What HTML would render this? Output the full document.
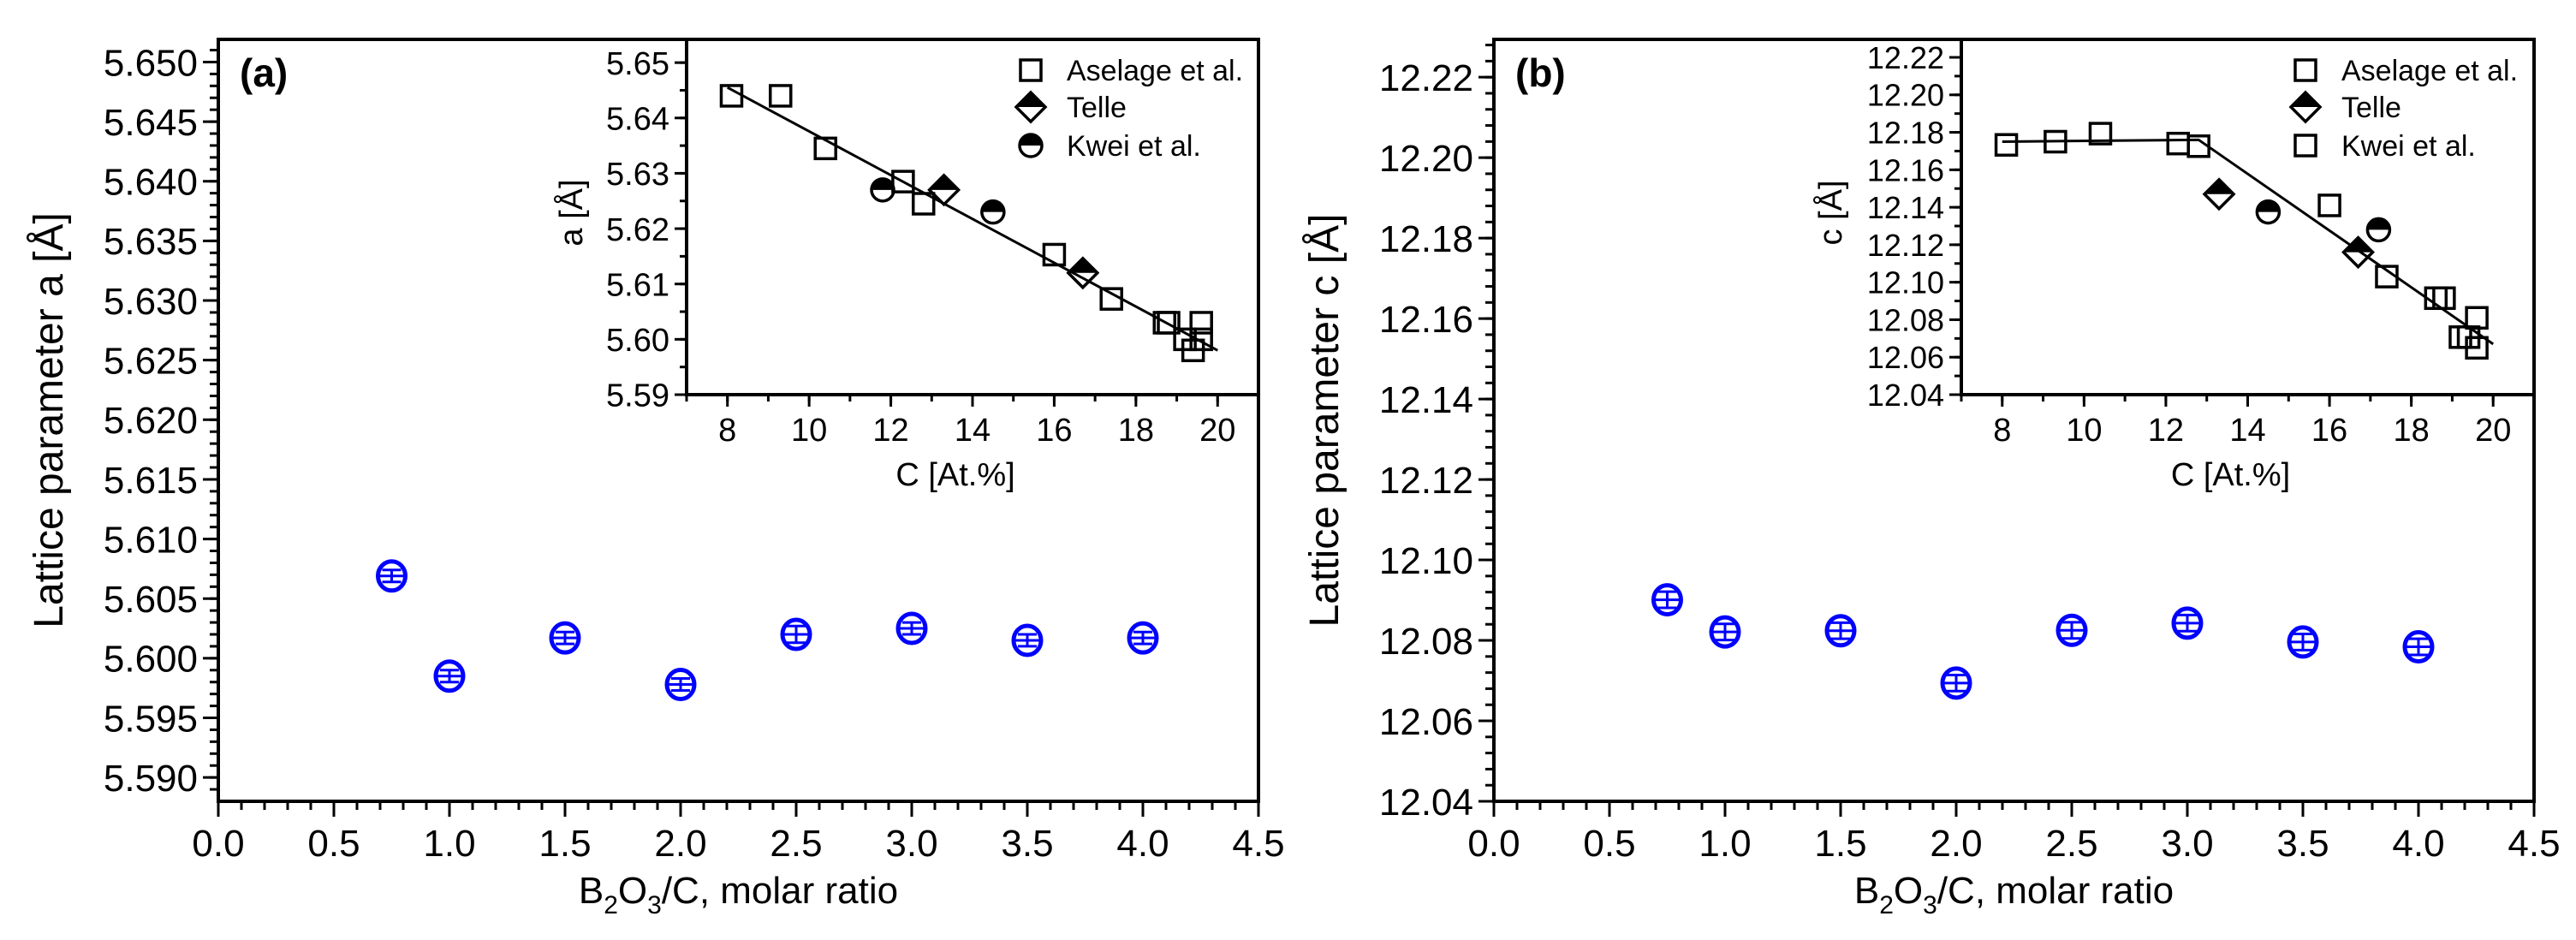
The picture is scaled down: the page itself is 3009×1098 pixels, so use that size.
<!DOCTYPE html>
<html><head><meta charset="utf-8"><style>
html,body{margin:0;padding:0;background:#fff;}
svg{display:block;font-family:"Liberation Sans",Arial,sans-serif;}
</style></head><body>
<svg id="fig" width="3009" height="1098" viewBox="0 0 3009 1098" xmlns="http://www.w3.org/2000/svg"></svg>
<script>
// ---- main data ----
const ratioX = [0.75, 1.0, 1.5, 2.0, 2.5, 3.0, 3.5, 4.0];
const latticeA = [5.6069, 5.5985, 5.6017, 5.5978, 5.6020, 5.6025, 5.6015, 5.6017];
const latticeAErr = [0.0005, 0.0005, 0.0005, 0.0005, 0.0007, 0.0005, 0.0005, 0.0005];
const latticeC = [12.0901, 12.0821, 12.0824, 12.0694, 12.0825, 12.0843, 12.0796, 12.0784];
const latticeCErr = [0.002, 0.002, 0.002, 0.002, 0.002, 0.002, 0.002, 0.002];
const mainXTicks = [0.0, 0.5, 1.0, 1.5, 2.0, 2.5, 3.0, 3.5, 4.0, 4.5];
const mainATicks = [5.590, 5.595, 5.600, 5.605, 5.610, 5.615, 5.620, 5.625, 5.630, 5.635, 5.640, 5.645, 5.650];
const mainCTicks = [12.04, 12.06, 12.08, 12.10, 12.12, 12.14, 12.16, 12.18, 12.20, 12.22];
// ---- inset a data ----
const insAAselageC = [8.1, 9.3, 10.4, 12.3, 12.8, 16.0, 17.4, 18.7, 18.8, 19.2, 19.4, 19.6, 19.6];
const insAAselageV = [5.644, 5.644, 5.6345, 5.6285, 5.6245, 5.6153, 5.6073, 5.603, 5.603, 5.600, 5.598, 5.603, 5.600];
const insATelleC = [13.3, 16.7];
const insATelleV = [5.627, 5.612];
const insAKweiC = [11.8, 14.5];
const insAKweiV = [5.627, 5.623];
const insAFitC = [8.0, 20.0];
const insAFitV = [5.6455, 5.598];
const insATicks = [5.59, 5.60, 5.61, 5.62, 5.63, 5.64, 5.65];
// ---- inset b data ----
const insBAselageC = [8.1, 9.3, 10.4, 12.3, 12.8, 16.0, 17.4, 18.6, 18.8, 19.2, 19.4, 19.6, 19.6];
const insBAselageV = [12.1733, 12.175, 12.1793, 12.174, 12.1726, 12.141, 12.103, 12.0915, 12.0915, 12.0707, 12.0707, 12.081, 12.065];
const insBTelleC = [13.3, 16.7];
const insBTelleV = [12.147, 12.116];
const insBKweiC = [14.5, 17.2];
const insBKweiV = [12.1375, 12.128];
const insBFitC = [8.0, 12.8, 20.0];
const insBFitV = [12.175, 12.176, 12.067];
const insBTicks = [12.04, 12.06, 12.08, 12.10, 12.12, 12.14, 12.16, 12.18, 12.20, 12.22];
const insXTicks = [8, 10, 12, 14, 16, 18, 20];

const NS = "http://www.w3.org/2000/svg";
const svg = document.getElementById('fig');
function mk(tag, attrs, parent, txt) {
  const e = document.createElementNS(NS, tag);
  for (const k in attrs) e.setAttribute(k, attrs[k]);
  if (txt !== undefined) e.textContent = txt;
  (parent || svg).appendChild(e);
  return e;
}
function scale(d0, d1, r0, r1) { return v => r0 + (v - d0) / (d1 - d0) * (r1 - r0); }

function axes(g, L, R, T, B, xs, ys, xTicks, xMinor, yTicks, yMinor, xFmt, yFmt, fs, maj, mn, box, yfs) {
  yfs = yfs || fs;
  if (box) { const r = mk('rect', {x: L, y: T, width: R - L, height: B - T, fill: '#fff', stroke: '#000', 'stroke-width': 4}, g);   }
  xMinor.forEach(v => mk('line', {x1: xs(v), x2: xs(v), y1: B, y2: B + mn, stroke: '#000', 'stroke-width': 3}, g));
  yMinor.forEach(v => mk('line', {x1: L, x2: L - mn, y1: ys(v), y2: ys(v), stroke: '#000', 'stroke-width': 3}, g));
  xTicks.forEach(v => {
    mk('line', {x1: xs(v), x2: xs(v), y1: B, y2: B + maj, stroke: '#000', 'stroke-width': 3}, g);
    const t = mk('text', {x: xs(v), y: B + maj + fs * 1.05, 'font-size': fs, 'text-anchor': 'middle'}, g, xFmt(v));
    
    
  });
  yTicks.forEach(v => {
    mk('line', {x1: L, x2: L - maj, y1: ys(v), y2: ys(v), stroke: '#000', 'stroke-width': 3}, g);
    const t = mk('text', {x: L - maj - 6, y: ys(v) + yfs * 0.36, 'font-size': yfs, 'text-anchor': 'end'}, g, yFmt(v));
    
    
  });
}
function range(a, b, s) { const o = []; for (let v = a; v <= b + 1e-9; v += s) o.push(+v.toFixed(6)); return o; }

function square(g, x, y) { const e = mk('rect', {x: x - 12, y: y - 12, width: 24, height: 24, fill: 'none', stroke: '#000', 'stroke-width': 3.5}, g); return e; }
function diamond(g, x, y) {
  const s = 17;
  mk('path', {d: `M${x - s},${y} L${x},${y - s} L${x + s},${y} Z`, fill: '#000'}, g);
  return mk('path', {d: `M${x},${y - s} L${x + s},${y} L${x},${y + s} L${x - s},${y} Z`, fill: 'none', stroke: '#000', 'stroke-width': 3.5}, g);
}
function halfCircle(g, x, y) {
  const r = 13;
  mk('path', {d: `M${x - r},${y} A${r},${r} 0 0 1 ${x + r},${y} Z`, fill: '#000'}, g);
  return mk('circle', {cx: x, cy: y, r: r, fill: 'none', stroke: '#000', 'stroke-width': 3.5}, g);
}

function mainPanel(id, L, R, T, B, ymin, ymax, vals, errs, yTicks, yMinorStep, yFmt, ytitle, letter) {
  const g = mk('g', {});
  
  
  const xs = scale(0, 4.5, L, R), ys = scale(ymin, ymax, B, T);
  mk('rect', {x: L, y: T, width: R - L, height: B - T, fill: 'none', stroke: '#000', 'stroke-width': 4}, g);
  axes(g, L, R, T, B, xs, ys, mainXTicks, range(0, 4.5, 0.1), yTicks, range(yTicks[0] - yMinorStep, ymax, yMinorStep).filter(v => v >= ymin && v <= ymax), v => v.toFixed(1), yFmt, 44, 18, 10, false);
  const lt = mk('text', {x: L + 25, y: T + 55, 'font-size': 46, 'font-weight': 'bold'}, g, letter);
  
  
  const yt = mk('text', {x: 0, y: 0, 'font-size': 48, 'text-anchor': 'middle', transform: `translate(${L - 182},${(T + B) / 2}) rotate(-90)`}, g, ytitle);
  
  
  const xt = mk('text', {x: (L + R) / 2, y: 1055, 'font-size': 44, 'text-anchor': 'middle'}, g);
  
  
  mk('tspan', {}, xt, 'B');
  mk('tspan', {dy: 12, 'font-size': 30}, xt, '2');
  mk('tspan', {dy: -12}, xt, 'O');
  mk('tspan', {dy: 12, 'font-size': 30}, xt, '3');
  mk('tspan', {dy: -12}, xt, '/C, molar ratio');
  ratioX.forEach((xv, i) => {
    const cx = xs(xv), cy = ys(vals[i]);
    const pg = mk('g', {}, g);
    
    
    const e1 = ys(vals[i] + errs[i]), e0 = ys(vals[i] - errs[i]);
    mk('line', {x1: cx, x2: cx, y1: e1, y2: e0, stroke: '#00f', 'stroke-width': 3}, pg);
    mk('line', {x1: cx - 11, x2: cx + 11, y1: e1, y2: e1, stroke: '#00f', 'stroke-width': 3}, pg);
    mk('line', {x1: cx - 11, x2: cx + 11, y1: e0, y2: e0, stroke: '#00f', 'stroke-width': 3}, pg);
    mk('line', {x1: cx - 15, x2: cx + 15, y1: cy, y2: cy, stroke: '#00f', 'stroke-width': 3}, pg);
    mk('ellipse', {cx: cx, cy: cy, rx: 16, ry: 17, fill: 'none', stroke: '#00f', 'stroke-width': 5}, pg);
  });
}

function insetPanel(id, L, R, T, B, ymin, ymax, yTicks, yMinor, yFmt, ytitle, asC, asV, teC, teV, kwC, kwV, fitC, fitV, kweiSquare, legX, titleOff, yfs) {
  const g = mk('g', {});
  
  
  const xs = scale(7, 21, L, R), ys = scale(ymin, ymax, B, T);
  axes(g, L, R, T, B, xs, ys, insXTicks, range(7, 21, 1), yTicks, yMinor, v => String(v), yFmt, 38, 14, 8, true, yfs);
  const xt = mk('text', {x: (L + R) / 2 - 20, y: 567, 'font-size': 38, 'text-anchor': 'middle'}, g, 'C [At.%]');
  
  
  const yt = mk('text', {x: 0, y: 0, 'font-size': 38, 'text-anchor': 'middle', transform: `translate(${L - titleOff},${(T + B) / 2 - 5}) rotate(-90)`}, g, ytitle);
  
  
  const d = fitC.map((c, i) => (i ? 'L' : 'M') + xs(c) + ',' + ys(fitV[i])).join(' ');
  const fl = mk('path', {d: d, fill: 'none', stroke: '#000', 'stroke-width': 3}, g);
  
  
  asC.forEach((c, i) => { const e = square(g, xs(c), ys(asV[i]));   });
  teC.forEach((c, i) => { const e = diamond(g, xs(c), ys(teV[i]));   });
  kwC.forEach((c, i) => { const e = halfCircle(g, xs(c), ys(kwV[i]));   });
  const lg = mk('g', {}, g);
  
  
  const rows = [82, 125, 170];
  square(lg, legX, rows[0]);
  diamond(lg, legX, rows[1]);
  if (kweiSquare) square(lg, legX, rows[2]); else halfCircle(lg, legX, rows[2]);
  ['Aselage et al.', 'Telle', 'Kwei et al.'].forEach((s, i) => {
    const t = mk('text', {x: legX + 42, y: rows[i] + 12, 'font-size': 34}, lg, s);
    
    
  });
}

mainPanel('panel-a', 255, 1470, 46, 936, 5.588, 5.6519, latticeA, latticeAErr, mainATicks, 0.001, v => v.toFixed(3), 'Lattice parameter a [Å]', '(a)');
mainPanel('panel-b', 1745, 2960, 46, 936, 12.04, 12.2294, latticeC, latticeCErr, mainCTicks, 0.004, v => v.toFixed(2), 'Lattice parameter c [Å]', '(b)');
insetPanel('inset-a', 802, 1470, 46, 461, 5.59, 5.6542, insATicks, range(5.59, 5.65, 0.005), v => v.toFixed(2), 'a [Å]',
  insAAselageC, insAAselageV, insATelleC, insATelleV, insAKweiC, insAKweiV, insAFitC, insAFitV, false, 1204, 122, 38);
insetPanel('inset-b', 2291, 2960, 46, 461, 12.04, 12.2296, insBTicks, range(12.04, 12.22, 0.01), v => v.toFixed(2), 'c [Å]',
  insBAselageC, insBAselageV, insBTelleC, insBTelleV, insBKweiC, insBKweiV, insBFitC, insBFitV, true, 2693, 140, 36);
</script>
</body></html>
